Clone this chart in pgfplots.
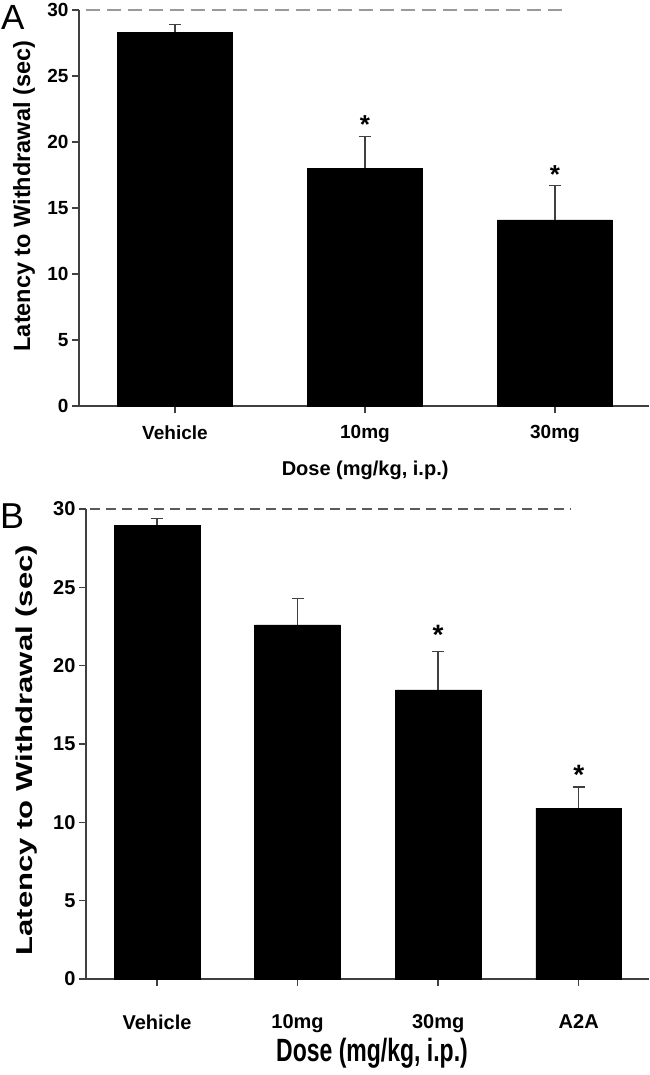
\documentclass[border=0pt]{standalone}
\usepackage{fontspec}
\setmainfont{Liberation Sans}
\usepackage{graphicx}
\usepackage{pgfplots}
\pgfplotsset{compat=1.18}

\definecolor{axisgray}{HTML}{404040}
\definecolor{dashA}{HTML}{9A9A9A}
\definecolor{dashB}{HTML}{5A5A5A}

\pgfplotsset{
  barpanel/.style={
    scale only axis,
    ymin=0, ymax=30,
    axis x line*=bottom, axis y line*=left,
    axis line style={-, axisgray, line width=1.3bp},
    tick align=outside, major tick length=7bp,
    tick style={axisgray, line width=1.3bp},
    ytick={0,5,...,30}, yticklabels={0,5,10,15,20,25,30},
    clip=false,
  },
  errs/.style={
    error bars/.cd, y dir=plus, y explicit,
    error bar style={axisgray, line width=1.3bp},
    error mark options={rotate=90, axisgray, mark size=6bp, line width=1.3bp},
  },
}

\begin{document}
\begin{tikzpicture}
\useasboundingbox (0,0) rectangle (650bp,-1075bp);

% ---- panel A
\begin{axis}[barpanel,
  at={(79bp,-406bp)}, anchor=south west,
  width=570bp, height=396bp,
  xmin=-0.505, xmax=2.495,
  xtick={0,1,2}, xticklabels={Vehicle,10mg,30mg},
  tick label style={font=\fontsize{19bp}{21bp}\selectfont\bfseries},
  xticklabel style={yshift=-9bp},
  xlabel={Dose (mg/kg, i.p.)},
  xlabel style={at={(axis description cs:0.502,-0.163)}, anchor=center,
    font=\fontsize{20bp}{22bp}\selectfont\bfseries},
  ylabel={Latency to Withdrawal (sec)},
  ylabel style={at={(axis description cs:-0.0965,0.53)}, anchor=center,
    font=\fontsize{23.5bp}{25bp}\selectfont\bfseries},
]
\addplot[dashA, line width=1.3bp, dash pattern=on 14bp off 7bp]
  coordinates {(-0.47,30) (2.05,30)};
\addplot[ybar, bar width=0.605, fill=black, draw=black, errs]
  coordinates {(0,28.3) +- (0,0.6) (1,18.0) +- (0,2.4) (2,14.1) +- (0,2.6)};
\addplot[draw=none, mark=none, nodes near coords={*},
  every node near coord/.style={anchor=center, font=\fontsize{26bp}{28bp}\selectfont\bfseries}]
  coordinates {(1,21.3) (2,17.5)};
\end{axis}

% ---- panel B
\begin{axis}[barpanel,
  at={(86bp,-979bp)}, anchor=south west,
  width=563bp, height=470bp,
  xmin=-0.505, xmax=3.5,
  xtick={0,1,2,3}, xticklabels={Vehicle,10mg,30mg,A2A},
  tick label style={font=\fontsize{20bp}{22bp}\selectfont\bfseries},
  xticklabel style={yshift=-25bp},
  xlabel={\scalebox{1}[1.4]{Dose (mg/kg, i.p.)}},
  xlabel style={at={(axis description cs:0.508,-0.159)}, anchor=center,
    font=\fontsize{23bp}{25bp}\selectfont\bfseries},
  ylabel={\scalebox{1.35}[1]{Latency to Withdrawal (sec)}},
  ylabel style={at={(axis description cs:-0.105,0.487)}, anchor=center,
    font=\fontsize{23bp}{25bp}\selectfont\bfseries},
]
\addplot[dashB, line width=1.3bp, dash pattern=on 10bp off 6bp]
  coordinates {(-0.48,30) (2.94,30)};
\addplot[ybar, bar width=0.61, fill=black, draw=black, errs]
  coordinates {(0,28.95) +- (0,0.45) (1,22.6) +- (0,1.7) (2,18.45) +- (0,2.45) (3,10.9) +- (0,1.35)};
\addplot[draw=none, mark=none, nodes near coords={*},
  every node near coord/.style={anchor=center, font=\fontsize{28bp}{30bp}\selectfont\bfseries}]
  coordinates {(2,21.95) (3,13.0)};
\end{axis}

% panel letters
\node[anchor=base west, inner sep=0pt, font=\fontsize{35bp}{38bp}\selectfont] at (1bp,-29bp) {A};
\node[anchor=base west, inner sep=0pt, font=\fontsize{36bp}{38bp}\selectfont] at (0bp,-528bp) {B};
\end{tikzpicture}
\end{document}
